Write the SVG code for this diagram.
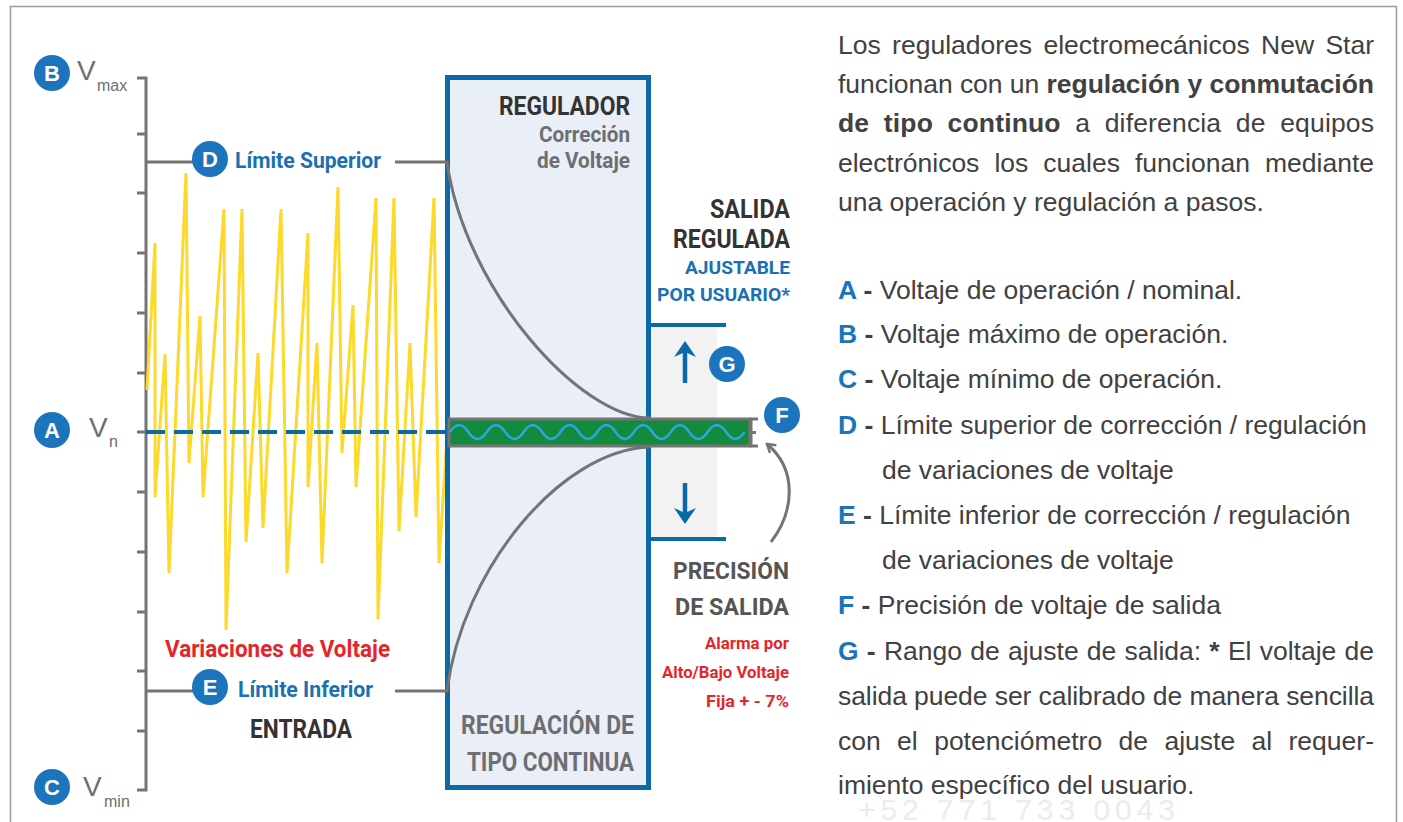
<svg xmlns="http://www.w3.org/2000/svg" width="1403" height="822" viewBox="0 0 1403 822">
<defs>
<style>
.cond{font-family:Roboto,"Liberation Sans",sans-serif;font-weight:700}
.dark{fill:#333333}
.gray{fill:#6d6e71}
.blue{fill:#1b6fb3}
.red{fill:#e4262a}
.vlab{font-family:"Liberation Sans",Arial,sans-serif;fill:#6d6e71}
.circ{fill:#1c74bc}
.cl{font-family:"Liberation Sans",Arial,sans-serif;font-weight:700;font-size:22px;fill:#ffffff;text-anchor:middle}
.body{font-family:"Liberation Sans",Arial,sans-serif;font-size:26.5px;fill:#414042}
.b{font-weight:700}
.lk{font-weight:700;fill:#1b75bb}
.gl{stroke:#747474;stroke-width:3;fill:none}
.bl{stroke:#0b69a8;fill:none}
</style>
<marker id="chev" viewBox="0 0 12 12" refX="10" refY="6" markerWidth="12" markerHeight="12" markerUnits="userSpaceOnUse" orient="auto">
<path d="M2,1 L10,6 L2,11" fill="none" stroke="#747474" stroke-width="2.5"/>
</marker>
</defs>
<rect width="1403" height="822" fill="#ffffff"/>
<rect x="10.5" y="6.5" width="1386" height="840" fill="none" stroke="#9d9d9d" stroke-width="1.5"/>

<g id="axis">
<path class="gl" d="M137,78 H146 V790 H137"/>
<path class="gl" d="M137,134 H146 M137,193 H146 M137,253 H146 M137,313 H146 M137,373 H146 M137,432 H146 M137,492 H146 M137,552 H146 M137,612 H146 M137,671 H146 M137,731 H146"/>
</g>

<g id="variations">
<polyline fill="none" stroke="#fcd92b" stroke-width="3" stroke-linejoin="miter" points="147,390 155,243 155,497 165,354 169,573 186,173 189,463 200,316 203,497 224,209 226,630 242,209 246,542 258,353 263,528 281,209 287,573 308,233 308,487 317,343 322,563 338,187 342,453 353,305 356,487 376,198 378,619 394,198 399,531 410,343 416,517 434,198 439,563 447,437"/>
<text class="cond red" x="165" y="657" font-size="24" textLength="225" lengthAdjust="spacingAndGlyphs">Variaciones de Voltaje</text>
</g>

<g id="regulator">
<rect x="447.5" y="77.5" width="201" height="710" fill="#e9eef7" stroke="#0b69a8" stroke-width="5"/>
<text class="cond dark" x="630" y="115" font-size="25" text-anchor="end" textLength="131" lengthAdjust="spacingAndGlyphs">REGULADOR</text>
<text class="cond gray" x="630" y="142" font-size="22" text-anchor="end" textLength="91" lengthAdjust="spacingAndGlyphs">Correción</text>
<text class="cond gray" x="630" y="168" font-size="22" text-anchor="end" textLength="93" lengthAdjust="spacingAndGlyphs">de Voltaje</text>
<text class="cond gray" x="634" y="734" font-size="25" text-anchor="end" textLength="173" lengthAdjust="spacingAndGlyphs">REGULACIÓN DE</text>
<text class="cond gray" x="634" y="771" font-size="25" text-anchor="end" textLength="167" lengthAdjust="spacingAndGlyphs">TIPO CONTINUA</text>
</g>

<g id="output-range">
<rect x="651" y="327" width="66" height="211" fill="#f2f2f2"/>
<path class="bl" stroke-width="4" d="M650,325 H726 M650,539 H726"/>
<path class="bl" stroke-width="4.5" d="M685,383 V350 M685,483 V515"/>
<polygon points="685,341 696,357 685,352 674,357" fill="#0b69a8"/>
<polygon points="685,524 696,508 685,513 674,508" fill="#0b69a8"/>
</g>

<g id="output-bar">
<rect x="449" y="419" width="301" height="27" fill="#138a3e" stroke="#747474" stroke-width="3"/>
<path d="M450,432 q9.2,-14 18.4,0 t18.4,0 t18.4,0 t18.4,0 t18.4,0 t18.4,0 t18.4,0 t18.4,0 t18.4,0 t18.4,0 t18.4,0 t18.4,0 t18.4,0 t18.4,0 t18.4,0 t18.4,0" fill="none" stroke="#2ba7df" stroke-width="2.5"/>
<path class="gl" d="M758,419 H751 V446 H758 M751,432.5 H756"/>
</g>

<g id="labels-right">
<text class="cond dark" x="790" y="218" font-size="25" text-anchor="end" textLength="80" lengthAdjust="spacingAndGlyphs">SALIDA</text>
<text class="cond dark" x="790" y="248" font-size="25" text-anchor="end" textLength="117" lengthAdjust="spacingAndGlyphs">REGULADA</text>
<text class="cond blue" x="790" y="274" font-size="19" text-anchor="end" textLength="105" lengthAdjust="spacingAndGlyphs">AJUSTABLE</text>
<text class="cond blue" x="790" y="301" font-size="19" text-anchor="end" textLength="133" lengthAdjust="spacingAndGlyphs">POR USUARIO*</text>
<text class="cond" fill="#555555" x="789" y="579" font-size="24" text-anchor="end" textLength="116" lengthAdjust="spacingAndGlyphs">PRECISIÓN</text>
<text class="cond" fill="#555555" x="789" y="615" font-size="24" text-anchor="end" textLength="114" lengthAdjust="spacingAndGlyphs">DE SALIDA</text>
<text class="cond red" x="789" y="649" font-size="17" text-anchor="end" textLength="84" lengthAdjust="spacingAndGlyphs">Alarma por</text>
<text class="cond red" x="789" y="678" font-size="17" text-anchor="end" textLength="127" lengthAdjust="spacingAndGlyphs">Alto/Bajo Voltaje</text>
<text class="cond red" x="789" y="707" font-size="17" text-anchor="end" textLength="83" lengthAdjust="spacingAndGlyphs">Fija + - 7%</text>
</g>

<g id="connectors">
<line x1="146" y1="432" x2="447" y2="432" stroke="#0b69a8" stroke-width="4" stroke-dasharray="19 9"/>
<path class="gl" d="M146,162 H193 M395,162 H447 C465,290 580,418 650,418"/>
<path class="gl" d="M146,691 H193 M395,691 H447 C462,570 560,450 650,447"/>
<path class="gl" d="M771,542 C794,512 798,470 767,444" marker-end="url(#chev)"/>
</g>

<g id="node-B">
<circle class="circ" cx="52" cy="73" r="18"/>
<text class="cl" x="52" y="81">B</text>
<text class="vlab" x="77" y="80" font-size="28">V</text>
<text class="vlab" x="97" y="91" font-size="16">max</text>
</g>
<g id="node-A">
<circle class="circ" cx="52" cy="430" r="18"/>
<text class="cl" x="52" y="438">A</text>
<text class="vlab" x="89" y="437" font-size="28">V</text>
<text class="vlab" x="109" y="447" font-size="16">n</text>
</g>
<g id="node-C">
<circle class="circ" cx="52" cy="787" r="18"/>
<text class="cl" x="52" y="795">C</text>
<text class="vlab" x="83" y="796" font-size="28">V</text>
<text class="vlab" x="104" y="807" font-size="16">min</text>
</g>
<g id="node-D">
<circle class="circ" cx="210" cy="159" r="18"/>
<text class="cl" x="210" y="167">D</text>
<text class="cond blue" x="235" y="168" font-size="22" textLength="146" lengthAdjust="spacingAndGlyphs">Límite Superior</text>
</g>
<g id="node-E">
<circle class="circ" cx="210" cy="687" r="18"/>
<text class="cl" x="210" y="695">E</text>
<text class="cond blue" x="238" y="697" font-size="22" textLength="135" lengthAdjust="spacingAndGlyphs">Límite Inferior</text>
<text class="cond dark" x="250" y="738" font-size="25" textLength="102" lengthAdjust="spacingAndGlyphs">ENTRADA</text>
</g>
<g id="node-G">
<circle class="circ" cx="727" cy="364" r="18"/>
<text class="cl" x="727" y="372">G</text>
</g>
<g id="node-F">
<circle class="circ" cx="782" cy="415" r="18"/>
<text class="cl" x="782" y="423">F</text>
</g>

<g id="description">
<text class="body" x="838" y="54" textLength="536" lengthAdjust="spacing" word-spacing="4">Los reguladores electromecánicos New Star</text>
<text class="body" x="838" y="93" textLength="536" lengthAdjust="spacing">funcionan con un <tspan class="b">regulación y conmutación</tspan></text>
<text class="body" x="838" y="132" textLength="536" lengthAdjust="spacing" word-spacing="7"><tspan class="b">de tipo continuo</tspan> a diferencia de equipos</text>
<text class="body" x="838" y="172" textLength="536" lengthAdjust="spacing" word-spacing="7.7">electrónicos los cuales funcionan mediante</text>
<text class="body" x="838" y="211">una operación y regulación a pasos.</text>
</g>

<g id="legend">
<text class="body" x="838" y="299"><tspan class="lk">A</tspan><tspan class="b"> - </tspan>Voltaje de operación / nominal.</text>
<text class="body" x="838" y="343"><tspan class="lk">B</tspan><tspan class="b"> - </tspan>Voltaje máximo de operación.</text>
<text class="body" x="838" y="388"><tspan class="lk">C</tspan><tspan class="b"> - </tspan>Voltaje mínimo de operación.</text>
<text class="body" x="838" y="434"><tspan class="lk">D</tspan><tspan class="b"> - </tspan>Límite superior de corrección / regulación</text>
<text class="body" x="882" y="479">de variaciones de voltaje</text>
<text class="body" x="838" y="524"><tspan class="lk">E</tspan><tspan class="b"> - </tspan>Límite inferior de corrección / regulación</text>
<text class="body" x="882" y="569">de variaciones de voltaje</text>
<text class="body" x="838" y="614"><tspan class="lk">F</tspan><tspan class="b"> - </tspan>Precisión de voltaje de salida</text>
<text class="body" x="838" y="660" textLength="536" lengthAdjust="spacing" word-spacing="0.9"><tspan class="lk">G</tspan><tspan class="b"> - </tspan>Rango de ajuste de salida: <tspan class="b">*</tspan> El voltaje de</text>
<text class="body" x="838" y="705" textLength="536" lengthAdjust="spacing">salida puede ser calibrado de manera sencilla</text>
<text class="body" x="838" y="750" textLength="536" lengthAdjust="spacing" word-spacing="9">con el potenciómetro de ajuste al requer-</text>
<text class="body" x="838" y="794">imiento específico del usuario.</text>
<text x="858" y="820" font-family="Liberation Sans, Arial, sans-serif" font-size="30" fill="#ececec" textLength="317" lengthAdjust="spacing">+52 771 733 0043</text>
</g>
</svg>
